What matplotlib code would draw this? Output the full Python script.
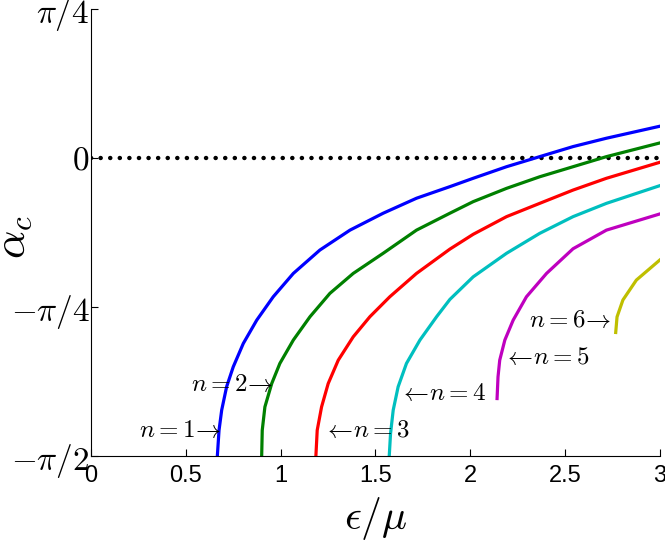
import numpy as np
import matplotlib
matplotlib.use('Agg')
import matplotlib.pyplot as plt

plt.rcParams['mathtext.fontset'] = 'cm'
plt.rcParams['font.family'] = ['Liberation Sans', 'DejaVu Sans']
plt.rcParams['lines.scale_dashes'] = False

# curves alpha_c(eps/mu)
x1 = [0.666, 0.675, 0.689, 0.715, 0.750, 0.803, 0.874, 0.961, 1.067, 1.207, 1.366, 1.541, 1.717, 1.893,
      2.016, 2.192, 2.367, 2.543, 2.719, 3.0]
y1 = [-1.5708, -1.434, -1.328, -1.205, -1.100, -0.977, -0.854, -0.731, -0.608, -0.485, -0.380, -0.291, -0.212, -0.151,
      -0.107, -0.046, 0.007, 0.060, 0.104, 0.167]

x2 = [0.900, 0.903, 0.917, 0.953, 0.996, 1.067, 1.155, 1.260, 1.383, 1.541, 1.717, 1.893, 2.016, 2.192,
      2.367, 2.543, 2.719, 3.0]
y2 = [-1.5708, -1.434, -1.311, -1.188, -1.082, -0.959, -0.836, -0.713, -0.608, -0.502, -0.380, -0.291, -0.230, -0.160,
      -0.099, -0.046, 0.007, 0.079]

x3 = [1.186, 1.193, 1.216, 1.251, 1.304, 1.383, 1.471, 1.576, 1.717, 1.893, 2.016, 2.192, 2.367, 2.543, 2.719, 3.0]
y3 = [-1.5708, -1.434, -1.311, -1.188, -1.065, -0.942, -0.836, -0.731, -0.608, -0.480, -0.402, -0.309, -0.239, -0.169,
      -0.107, -0.023]

x4 = [1.573, 1.580, 1.594, 1.620, 1.664, 1.735, 1.823, 1.893, 2.016, 2.192, 2.367, 2.543, 2.719, 3.0]
y4 = [-1.5708, -1.451, -1.328, -1.205, -1.082, -0.959, -0.836, -0.745, -0.626, -0.502, -0.397, -0.309, -0.239, -0.146]

x5 = [2.142, 2.147, 2.156, 2.183, 2.227, 2.297, 2.403, 2.543, 2.719, 3.0]
y5 = [-1.267, -1.153, -1.065, -0.959, -0.854, -0.731, -0.608, -0.478, -0.380, -0.295]

x6 = [2.768, 2.775, 2.806, 2.877, 3.0]
y6 = [-0.919, -0.837, -0.748, -0.643, -0.538]

curves = [(x1, y1, 'b'), (x2, y2, 'g'), (x3, y3, 'r'), (x4, y4, 'c'), (x5, y5, 'm'), (x6, y6, 'y')]

# labels: text, x, y, alignment
labels = [(r'$n=1\!\rightarrow$', 0.684, -1.434, 'right'),
          (r'$n=2\!\rightarrow$', 0.961, -1.188, 'right'),
          (r'$\leftarrow\! n=3$', 1.225, -1.434, 'left'),
          (r'$\leftarrow\! n=4$', 1.626, -1.240, 'left'),
          (r'$\leftarrow\! n=5$', 2.174, -1.047, 'left'),
          (r'$n=6\!\rightarrow$', 2.745, -0.854, 'right')]

fig = plt.figure(figsize=(6.65, 5.53), dpi=100)
ax = fig.add_axes([0.137, 0.175, 0.855, 0.809])

ax.plot([0, 3], [0, 0], color='k', lw=3.2, dashes=(0.1, 6.8), dash_capstyle='round')

for x, y, c in curves:
    ax.plot(x, y, color=c, lw=2.3, solid_joinstyle='round')

for txt, x, y, ha in labels:
    ax.text(x, y, txt, fontsize=18, ha=ha, va='center')

ax.set_xlim(0, 3)
ax.set_ylim(-np.pi / 2, np.pi / 4)
ax.set_xticks([0, 0.5, 1, 1.5, 2, 2.5, 3])
ax.set_xticklabels(['0', '0.5', '1', '1.5', '2', '2.5', '3'], fontsize=17)
ax.set_yticks([-np.pi / 2, -np.pi / 4, 0, np.pi / 4])
ax.set_yticklabels([r'$-\pi/2$', r'$-\pi/4$', r'$0$', r'$\pi/4$'], fontsize=24)
ax.tick_params(direction='in', length=5, width=0.8, top=False, right=False)
ax.tick_params(axis='y', pad=1)
ax.tick_params(axis='x', pad=6)
ax.spines['top'].set_visible(False)
ax.spines['right'].set_visible(False)

ax.set_xlabel(r'$\epsilon/\mu$', fontsize=30, labelpad=6)
ax.set_ylabel(r'$\alpha_c$', fontsize=32)
ax.yaxis.set_label_coords(-0.10, 0.49)

fig.savefig('out.png', dpi=100)
